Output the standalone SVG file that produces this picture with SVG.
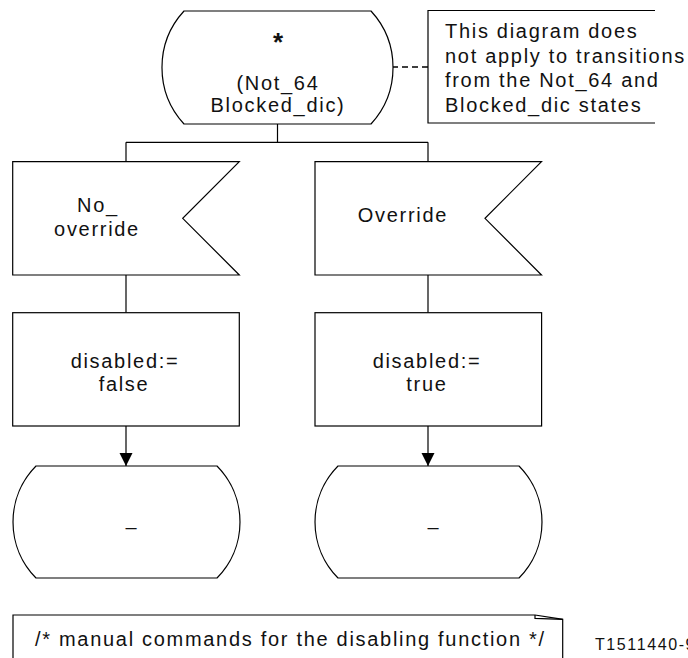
<svg xmlns="http://www.w3.org/2000/svg" width="688" height="658" viewBox="0 0 688 658">
<defs>
<style>
.sh{fill:#fff;stroke:#000;stroke-width:1.2}
.ln{fill:none;stroke:#000;stroke-width:1.2}
.t{font-family:"Liberation Sans",Arial,sans-serif;font-size:20px;letter-spacing:1.7px;fill:#111}
.m{text-anchor:middle}
</style>
<marker id="arr" markerUnits="userSpaceOnUse" markerWidth="14" markerHeight="14" viewBox="0 0 14 14" refX="13" refY="7" orient="auto">
<path d="M0,0.5 L13,7 L0,13.5 Z" fill="#000"/>
</marker>
</defs>
<rect width="688" height="658" fill="#fff"/>

<g id="connectors">
<line class="ln" x1="277.5" y1="124" x2="277.5" y2="142.3"/>
<line class="ln" x1="126" y1="142.3" x2="428" y2="142.3"/>
<line class="ln" x1="126" y1="142.3" x2="126" y2="161.7"/>
<line class="ln" x1="428" y1="142.3" x2="428" y2="161.7"/>
<line class="ln" x1="126" y1="275" x2="126" y2="312.7"/>
<line class="ln" x1="428" y1="275" x2="428" y2="312.7"/>
<line class="ln" x1="126" y1="426" x2="126" y2="466" marker-end="url(#arr)"/>
<line class="ln" x1="428" y1="426" x2="428" y2="466" marker-end="url(#arr)"/>
<line class="ln" x1="392" y1="67" x2="428" y2="67" stroke-dasharray="6,4" style="stroke-width:1.6"/>
</g>

<g id="start">
<path class="sh" d="M184,11 H371 A83.5,83.5 0 0 1 371,124 H184 A83.5,83.5 0 0 1 184,11 Z"/>
<text class="t m" x="278" y="51" style="font-size:26px;font-weight:bold;letter-spacing:0">*</text>
<text class="t m" x="278" y="90">(Not_64</text>
<text class="t m" x="278" y="112">Blocked_dic)</text>
</g>

<g id="note">
<path class="ln" d="M655,10.5 H428 V123 H655"/>
<text class="t" x="445" y="37.5">This diagram does</text>
<text class="t" x="445" y="62.5">not apply to transitions</text>
<text class="t" x="445" y="87">from the Not_64 and</text>
<text class="t" x="445" y="112">Blocked_dic states</text>
</g>

<g id="sig_no_override">
<polygon class="sh" points="12.7,161.7 239.3,161.7 182.7,218.3 239.3,275 12.7,275"/>
<text class="t m" x="98" y="211.7">No_</text>
<text class="t m" x="97" y="236">override</text>
</g>

<g id="sig_override">
<polygon class="sh" points="315,161.7 541.5,161.7 485,218.3 541.5,275 315,275"/>
<text class="t m" x="403" y="222">Override</text>
</g>

<g id="task_false">
<rect class="sh" x="12.7" y="312.7" width="226.6" height="113.3"/>
<text class="t m" x="125" y="367.5">disabled:=</text>
<text class="t m" x="124" y="390.5">false</text>
</g>

<g id="task_true">
<rect class="sh" x="315" y="312.7" width="226.6" height="113.3"/>
<text class="t m" x="427" y="367.5">disabled:=</text>
<text class="t m" x="427" y="390.5">true</text>
</g>

<g id="next_left">
<path class="sh" d="M36,466 H217 A79.7,79.7 0 0 1 217,578 H36 A79.7,79.7 0 0 1 36,466 Z"/>
<text class="t m" x="131" y="534" style="letter-spacing:0">–</text>
</g>

<g id="next_right">
<path class="sh" d="M338,466 H519 A79.7,79.7 0 0 1 519,578 H338 A79.7,79.7 0 0 1 338,466 Z"/>
<text class="t m" x="433" y="534" style="letter-spacing:0">–</text>
</g>

<g id="comment">
<path class="ln" d="M13,658 V615 H535 L562.7,619.3 V658"/>
<path class="ln" d="M535,615 V618.3 L562.7,619.3"/>
<text class="t" x="35" y="645.5">/* manual commands for the disabling function */</text>
</g>

<text class="t" x="595" y="650" style="font-size:16px;letter-spacing:1.6px">T1511440-9</text>
</svg>
